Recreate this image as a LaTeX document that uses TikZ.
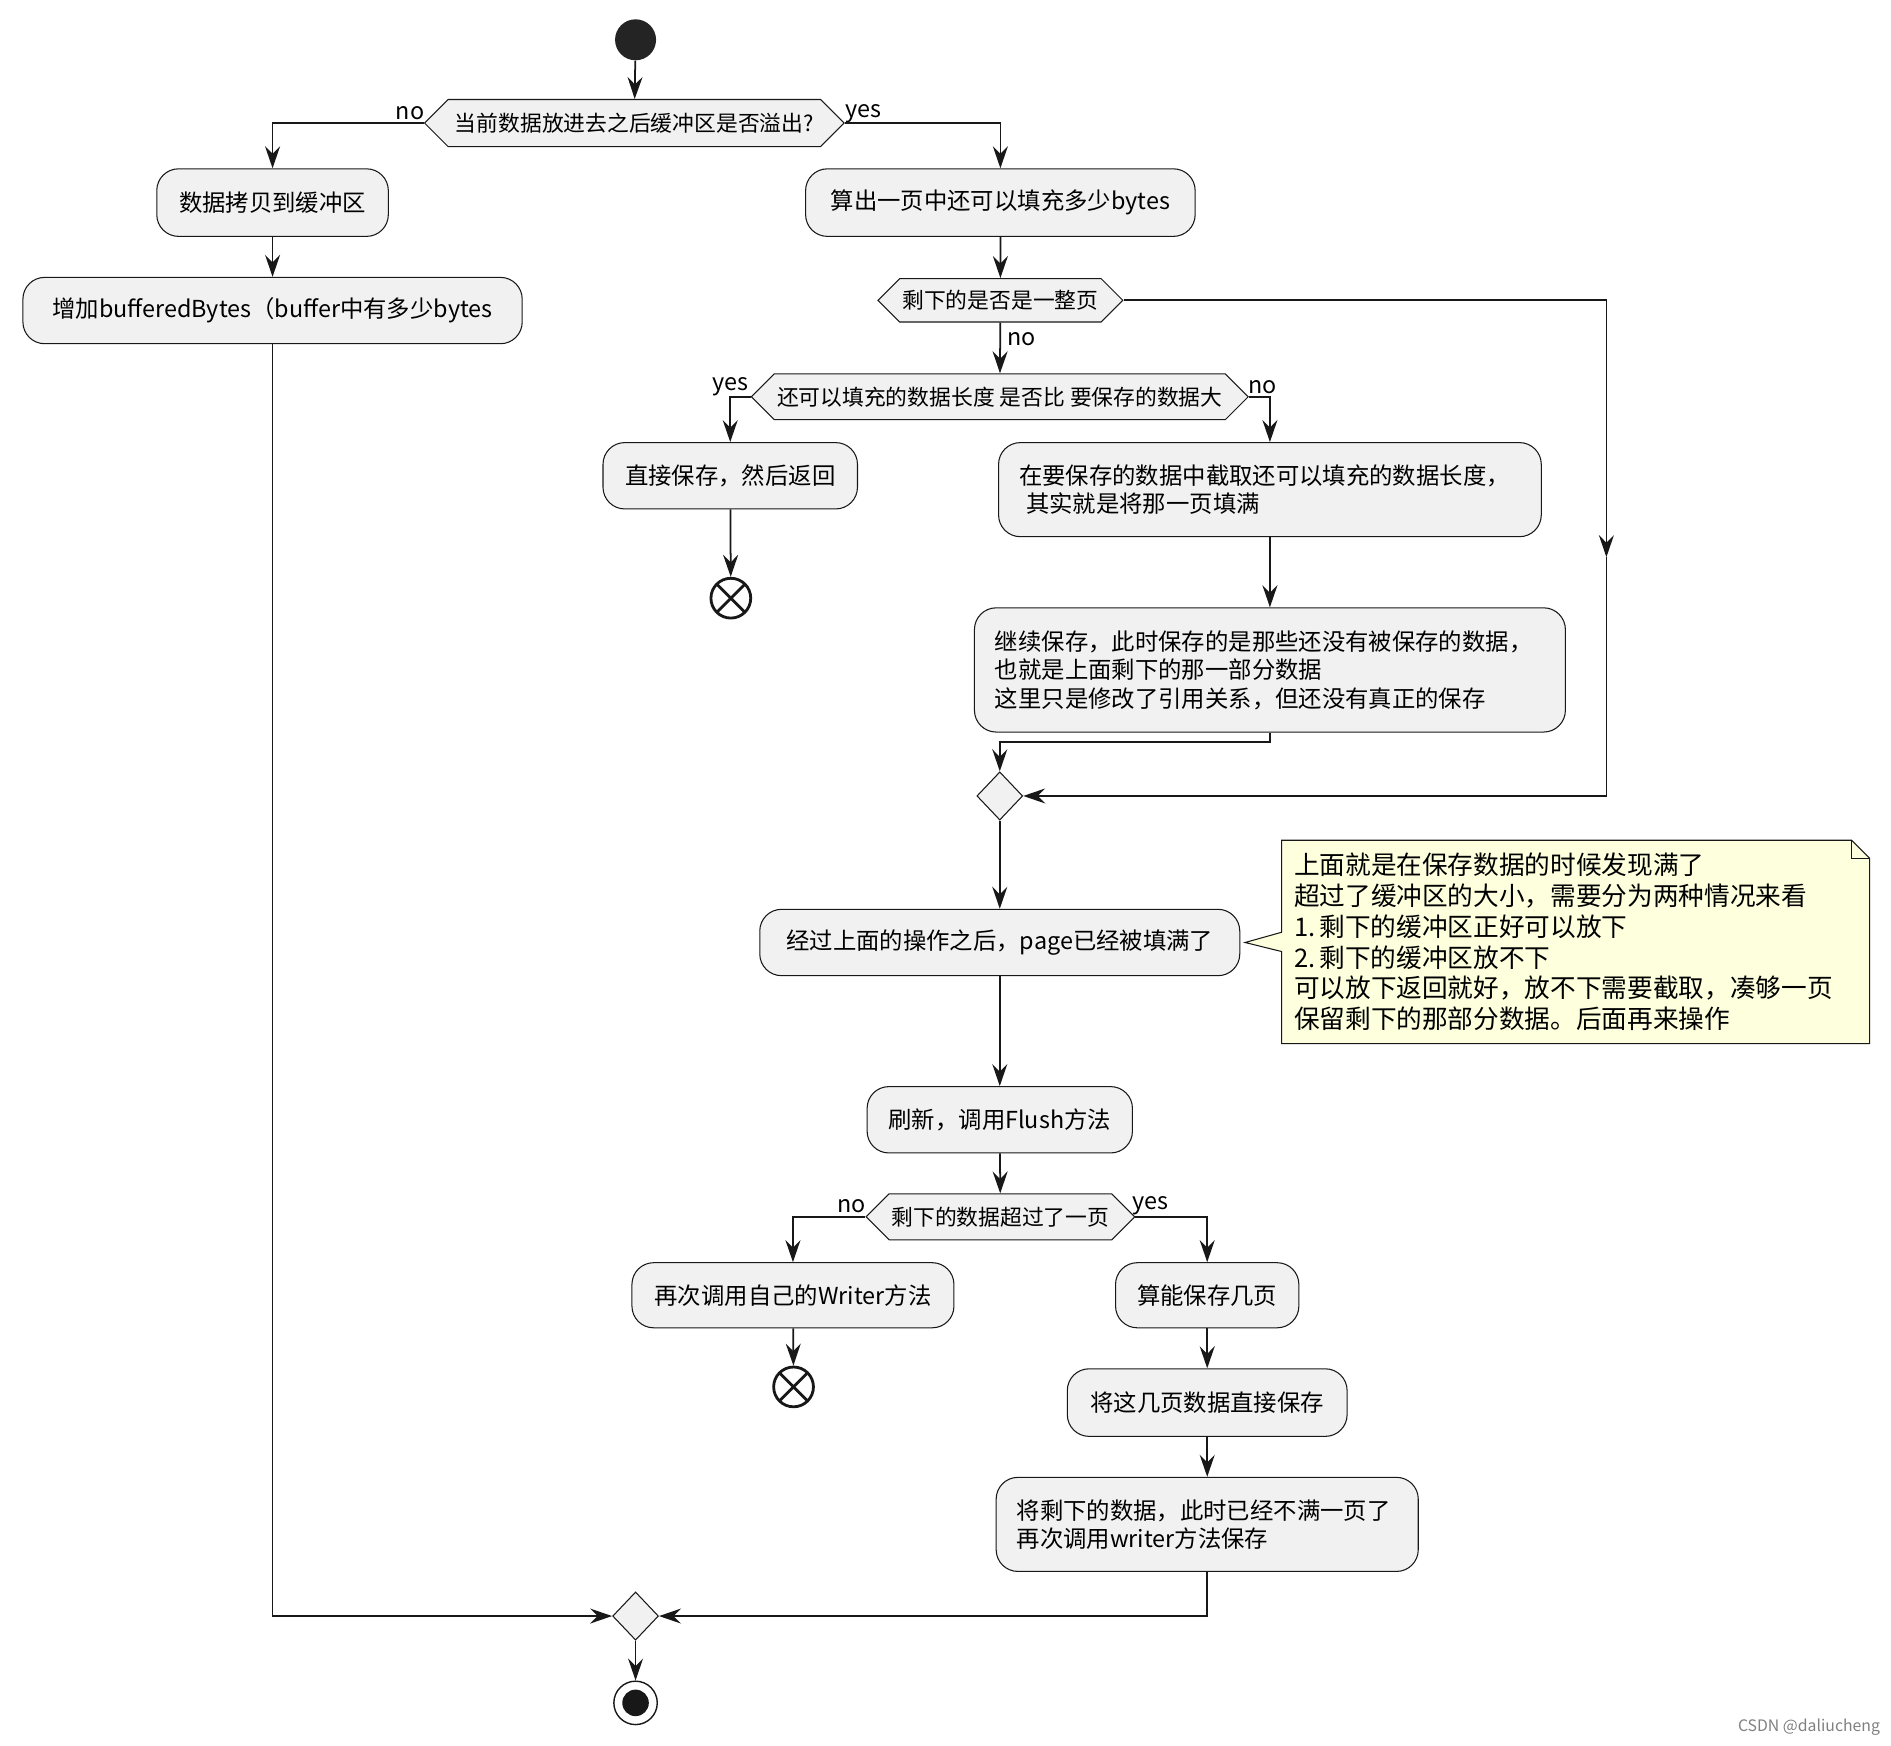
\documentclass[tikz,border=0pt]{standalone}
\usepackage{fontspec}
\setmainfont{Noto Sans CJK SC}
\usetikzlibrary{arrows.meta,shapes.geometric,shapes.symbols}

\definecolor{actfill}{HTML}{F1F1F1}
\definecolor{actline}{HTML}{181818}
\definecolor{notefill}{HTML}{FEFFDD}
\newdimen\pxu \pxu=0.02412cm

\tikzset{
  act/.style={draw=actline, fill=actfill, rounded corners=18\pxu, line width=0.6pt,
    font=\fontsize{13.3}{16.2}\selectfont, align=left, inner sep=0pt},
  test/.style={draw=actline, fill=actfill, signal, signal to=east and west,
    signal pointer angle=90, line width=0.6pt,
    font=\fontsize{12.4}{15}\selectfont, inner xsep=2\pxu, inner ysep=0pt},
  merge/.style={diamond, draw=actline, fill=actfill, line width=0.6pt,
    minimum width=38\pxu, minimum height=40\pxu, inner sep=0pt},
  lbl/.style={font=\fontsize{13.3}{16}\selectfont, inner sep=0pt},
  startdot/.style={circle, fill=actline!95, minimum size=34\pxu, inner sep=0pt},
  finishdot/.style={circle, draw=actline, line width=0.8pt, minimum size=36\pxu, inner sep=0pt,
    path picture={\fill[actline] (path picture bounding box.center) circle (11\pxu);}},
  stopx/.style={circle, draw=actline, line width=1.6pt, minimum size=33\pxu, inner sep=0pt,
    path picture={\draw[line width=1.6pt]
      (path picture bounding box.north west) -- (path picture bounding box.south east)
      (path picture bounding box.north east) -- (path picture bounding box.south west);}},
  flow/.style={-{Stealth[length=0.44cm,width=0.3cm,inset=0.15cm]}, line width=1pt, draw=actline},
  notebd/.style={draw=actline, line width=0.6pt},
}

\begin{document}
\begin{tikzpicture}[x=0.02412cm, y=-0.02412cm]
    \useasboundingbox (0,0) rectangle (1568,1447);

    % top decision
    \node[startdot] (start) at (527,33) {};
    \node[test, minimum width=348\pxu, minimum height=39\pxu] (overflow) at (526,102)
         {当前数据放进去之后缓冲区是否溢出?};

    % left branch
    \node[act, minimum width=192\pxu, minimum height=56\pxu] (copybuf) at (226,168)
         {数据拷贝到缓冲区};
    \node[act, minimum width=414\pxu, minimum height=55\pxu] (addbytes) at (226,257.5)
         {增加bufferedBytes（buffer中有多少bytes};

    % right branch
    \node[act, minimum width=323\pxu, minimum height=56\pxu] (calcfree) at (829.5,168)
         {算出一页中还可以填充多少bytes};
    \node[test, minimum width=203\pxu, minimum height=36\pxu] (wholepage) at (829.5,249)
         {剩下的是否是一整页};
    \node[test, minimum width=412\pxu, minimum height=38\pxu] (fitcheck) at (829,329)
         {还可以填充的数据长度 是否比 要保存的数据大};
    \node[act, minimum width=211\pxu, minimum height=55\pxu] (savereturn) at (605.5,394.5)
         {直接保存，然后返回};
    \node[stopx] (stopA) at (606,496) {};
    \node[act, minimum width=450\pxu, minimum height=78\pxu, text width=416\pxu] (cutdata) at (1053,406)
         {在要保存的数据中截取还可以填充的数据长度，\\\hspace*{0.3em}其实就是将那一页填满};
    \node[act, minimum width=490\pxu, minimum height=103\pxu, text width=456\pxu] (keepsave) at (1053,555.5)
         {继续保存，此时保存的是那些还没有被保存的数据，\\也就是上面剩下的那一部分数据\\这里只是修改了引用关系，但还没有真正的保存};
    \node[merge] (mergeA) at (829,660) {};
    \coordinate (rdown) at (1332,462);

    \node[act, minimum width=398\pxu, minimum height=55\pxu] (pagefull) at (829,781.5)
         {经过上面的操作之后，page已经被填满了};
    \node[act, minimum width=220\pxu, minimum height=55\pxu] (flushcall) at (829,928.5)
         {刷新，调用Flush方法};
    \node[test, minimum width=221\pxu, minimum height=38\pxu] (morepage) at (829.5,1009)
         {剩下的数据超过了一页};
    \node[act, minimum width=267\pxu, minimum height=54\pxu] (callagain) at (657.5,1074)
         {再次调用自己的Writer方法};
    \node[stopx] (stopB) at (658,1150) {};
    \node[act, minimum width=152\pxu, minimum height=54\pxu] (countpages) at (1001,1074)
         {算能保存几页};
    \node[act, minimum width=232\pxu, minimum height=56\pxu] (savepages) at (1001,1163)
         {将这几页数据直接保存};
    \node[act, minimum width=350\pxu, minimum height=78\pxu, text width=316\pxu] (restdata) at (1001,1264)
         {将剩下的数据，此时已经不满一页了\\再次调用writer方法保存};
    \node[merge] (mergeB) at (527,1340) {};
    \node[finishdot] (finish) at (527,1412) {};

    % note
    \node[fill=notefill, minimum width=487\pxu, minimum height=168\pxu, text width=467\pxu,
          inner xsep=10\pxu, inner ysep=0pt, align=left,
          font=\fontsize{14.6}{17.5}\selectfont] (tip) at (1306.5,781)
         {上面就是在保存数据的时候发现满了\\超过了缓冲区的大小，需要分为两种情况来看\\1.\,剩下的缓冲区正好可以放下\\2.\,剩下的缓冲区放不下\\可以放下返回就好，放不下需要截取，凑够一页\\保留剩下的那部分数据。后面再来操作};
    \fill[notefill] ([yshift=8\pxu]tip.west) -- ([xshift=4\pxu]pagefull.east) -- ([yshift=-8\pxu]tip.west) -- cycle;
    \fill[white] ([xshift=-15\pxu]tip.north east) -- (tip.north east) -- ([yshift=-15\pxu]tip.north east) -- cycle;
    \draw[notebd] ([yshift=8\pxu]tip.west) -- (tip.north west) -- ([xshift=-15\pxu]tip.north east)
          -- ([yshift=-15\pxu]tip.north east) -- (tip.south east) -- (tip.south west)
          -- ([yshift=-8\pxu]tip.west) -- ([xshift=4\pxu]pagefull.east) -- cycle;
    \draw[notebd] ([xshift=-15\pxu]tip.north east) |- ([yshift=-15\pxu]tip.north east);

    % branch labels
    \node[lbl] at (340,94) {no};
    \node[lbl] at (716,94) {yes};
    \node[lbl] at (847,281) {no};
    \node[lbl] at (606,321) {yes};
    \node[lbl] at (1047,321) {no};
    \node[lbl] at (706,1000) {no};
    \node[lbl] at (954,1000) {yes};

    % connectors
    \draw[flow] (start) -- (overflow);
    \draw[flow] (overflow.west) -| (copybuf);
    \draw[flow] (copybuf) -- (addbytes);
    \draw[flow] (addbytes) |- (mergeB);
    \draw[flow] (overflow.east) -| (calcfree);
    \draw[flow] (calcfree) -- (wholepage);
    \draw[flow] (wholepage) -- (fitcheck);
    \draw[flow] (fitcheck.west) -| (savereturn);
    \draw[flow] (savereturn) -- (stopA);
    \draw[flow] (fitcheck.east) -| (cutdata);
    \draw[flow] (cutdata) -- (keepsave);
    \draw[flow] (keepsave.south) -- ++(0,8) -| (mergeA);
    \draw[flow] (wholepage.east) -| (rdown);
    \draw[flow] (rdown) |- (mergeA);
    \draw[flow] (mergeA) -- (pagefull);
    \draw[flow] (pagefull) -- (flushcall);
    \draw[flow] (flushcall) -- (morepage);
    \draw[flow] (morepage.west) -| (callagain);
    \draw[flow] (callagain) -- (stopB);
    \draw[flow] (morepage.east) -| (countpages);
    \draw[flow] (countpages) -- (savepages);
    \draw[flow] (savepages) -- (restdata);
    \draw[flow] (restdata) |- (mergeB);
    \draw[flow] (mergeB) -- (finish);

    \node[font=\fontsize{9}{10}\selectfont, text=gray] (mark) at (1500,1432) {CSDN @daliucheng};
\end{tikzpicture}
\end{document}
